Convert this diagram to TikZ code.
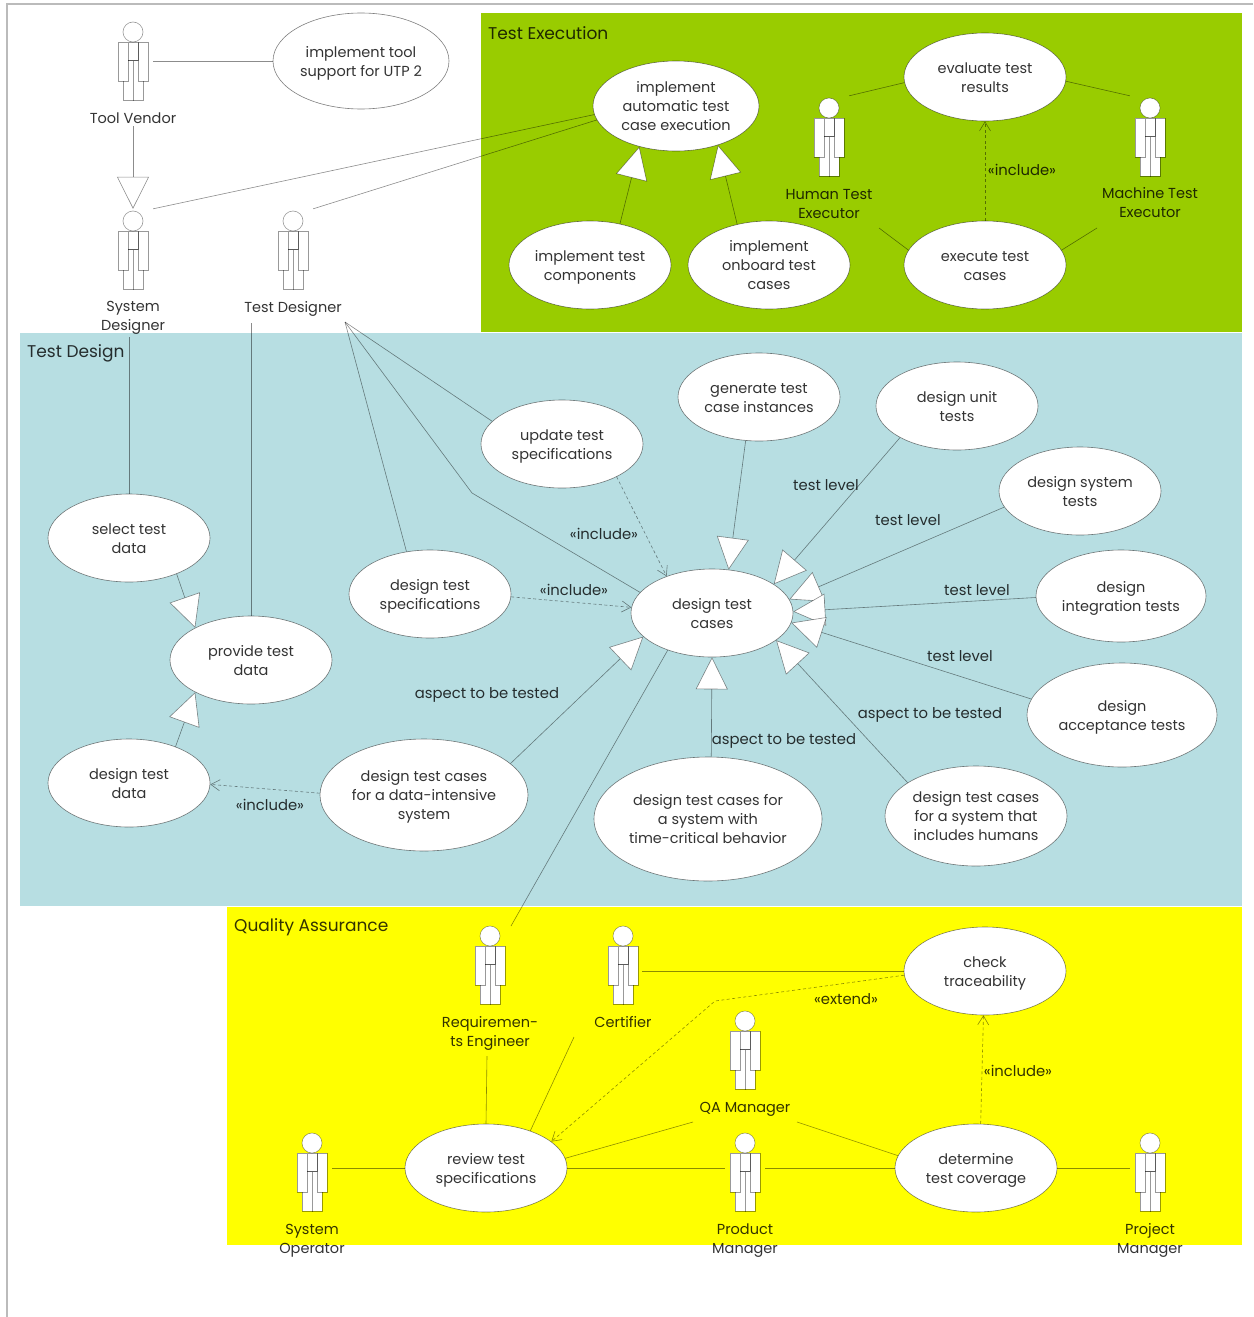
\documentclass[tikz,border=0pt]{standalone}
\usepackage{fontspec}
\setmainfont{Poppins}
\usetikzlibrary{arrows.meta,shapes.geometric}
\definecolor{greenzone}{HTML}{99CC00}
\definecolor{bluezone}{HTML}{B7DEE2}
\definecolor{yellowzone}{HTML}{FFFF00}
\definecolor{framegray}{HTML}{BBBBBB}
\tikzset{
  x=1pt,y=-1pt,
  usecase/.style={ellipse,draw=black,draw opacity=.5,fill=white,line width=.6pt,inner sep=0pt,align=center,text=black,text opacity=.8,font=\fontsize{14.5}{19}\selectfont},
  figurebox/.style={minimum width=40pt,minimum height=82pt,inner sep=0pt},
  actorlabel/.style={align=center,text=black,text opacity=.8,inner sep=2pt,font=\fontsize{14.5}{19}\selectfont},
  stereo/.style={text=black,text opacity=.8,inner sep=0pt,font=\fontsize{14.8}{19}\selectfont},
  zonelabel/.style={anchor=west,text=black,text opacity=.8,inner sep=0pt,font=\fontsize{17}{22}\selectfont},
  assoc/.style={draw=black,draw opacity=.45,line width=.6pt},
  generalize/.style={assoc,-{Triangle[length=32pt,width=32pt,fill=white]}},
  dep/.style={assoc,dash pattern=on 3pt off 2.5pt,-{Straight Barb[length=9pt,width=11pt]}},
  limb/.style={draw=black,draw opacity=.4,fill=white,line width=.6pt},
}
\newcommand{\ucase}[6]{\node[usecase,minimum width=#4pt,minimum height=#5pt] (#1) at (#2,#3) {\raisebox{-2pt}[\height][\depth]{\begin{tabular}{@{}c@{}}#6\end{tabular}}};}
\newcommand{\actorfig}[3]{%
  \node[figurebox] (#1) at (#2,#3+29) {};
  \begin{scope}[shift={(#2,#3)}]
    \draw[limb] (-10,28) rectangle (0,68);
    \draw[limb] (0,28) rectangle (10,68);
    \draw[limb] (-15,10) rectangle (-5,49);
    \draw[limb] (5,10) rectangle (15,49);
    \draw[limb] (-5,10) rectangle (5,28);
    \draw[limb] (0,0) circle[radius=10];
  \end{scope}}
\newcommand{\actorname}[4]{\node[actorlabel] (#1-l) at (#2,#3) {#4};}
\begin{document}
\begin{tikzpicture}
\useasboundingbox (0,0) rectangle (1253,1317);
\fill[white] (0,0) rectangle (1253,1317);
% page frame
\draw[framegray,line width=1.1pt] (7,1317) -- (7,4) -- (1253,4);
% zones
\fill[greenzone] (481,13) rectangle (1242,332);
\fill[bluezone] (20,333) rectangle (1242,906);
\fill[yellowzone] (227,907) rectangle (1242,1245);
\node[zonelabel] (zexec) at (488,33) {Test Execution};
\node[zonelabel] (zdesign) at (27,353) {Test Design};
\node[zonelabel] (zqa) at (234,927.5) {Quality Assurance};

% use cases
\ucase{tool}{361}{61}{176}{96}{implement tool\\support for UTP 2}
\ucase{auto}{676}{106}{166}{90}{implement\\automatic test\\case execution}
\ucase{eval}{985}{77}{162}{88}{evaluate test\\results}
\ucase{comp}{590}{265}{162}{88}{implement test\\components}
\ucase{onb}{769}{265}{162}{88}{implement\\onboard test\\cases}
\ucase{exec}{985}{265}{162}{88}{execute test\\cases}
\ucase{gen}{759}{397}{162}{88}{generate test\\case instances}
\ucase{unit}{957}{406}{162}{88}{design unit\\tests}
\ucase{upd}{562}{444}{162}{88}{update test\\specifications}
\ucase{sys}{1080}{491}{162}{88}{design system\\tests}
\ucase{sel}{129}{538}{162}{88}{select test\\data}
\ucase{spec}{430}{594}{162}{88}{design test\\specifications}
\ucase{cases}{712}{613}{162}{88}{design test\\cases}
\ucase{integ}{1121}{596}{170}{92}{design\\integration tests}
\ucase{prov}{251}{660}{162}{88}{provide test\\data}
\ucase{accept}{1122}{715}{190}{104}{design\\acceptance tests}
\ucase{tdata}{129}{783}{162}{88}{design test\\data}
\ucase{dint}{424}{795}{208}{112}{design test cases\\for a data-intensive\\system}
\ucase{time}{708}{819}{228}{124}{design test cases for\\a system with\\time-critical behavior}
\ucase{hum}{976}{816}{182}{100}{design test cases\\for a system that\\includes humans}
\ucase{check}{985}{971}{162}{88}{check\\traceability}
\ucase{rev}{486}{1168}{162}{88}{review test\\specifications}
\ucase{det}{976}{1168}{162}{88}{determine\\test coverage}

% actors
\actorfig{tv}{133}{32}
\actorfig{sd}{133}{221}
\actorfig{td}{293}{221}
\actorfig{hte}{829}{108}
\actorfig{mte}{1150}{108}
\actorfig{rq}{490}{936}
\actorfig{cf}{623}{936}
\actorfig{qa}{745}{1021}
\actorfig{so}{312}{1143}
\actorfig{pdm}{745}{1143}
\actorfig{pjm}{1150}{1143}
\actorname{tv}{133}{118.5}{Tool Vendor}
\actorname{sd}{133}{318}{System\\Designer}
\actorname{td}{293}{309}{Test Designer}
\actorname{hte}{829}{204}{Human Test\\Executor}
\actorname{mte}{1150}{203}{Machine Test\\Executor}
\actorname{rq}{490}{1033}{Requiremen-\\ts Engineer}
\actorname{cf}{623}{1022}{Certifier}
\actorname{qa}{745}{1109}{QA Manager}
\actorname{so}{312}{1241}{System\\Operator}
\actorname{pdm}{745}{1240.5}{Product\\Manager}
\actorname{pjm}{1150}{1240.5}{Project\\Manager}

% free ends and bends
\coordinate (tdl-a) at (251,323);
\coordinate (tdl-b) at (345,322);
\coordinate (sdl-a) at (129,337);
\coordinate (hte-a) at (879,228);
\coordinate (mte-a) at (1097,228);
\coordinate (rq-a) at (511,926);
\coordinate (rq-b) at (487,1056);
\coordinate (cf-a) at (574,1037);
\coordinate (cf-b) at (642,971);
\coordinate (qa-a) at (693,1122);
\coordinate (qa-b) at (797,1122);
\coordinate (so-b) at (332,1168);
\coordinate (pdm-w) at (725,1168);
\coordinate (pdm-e) at (765,1168);
\coordinate (pjm-w) at (1130,1168);
\coordinate (bend1) at (472,493);
\coordinate (bend2) at (715,1001);

% associations
\draw[assoc] (tv.east) -- (tool.west);
\draw[assoc] (sd.north east) -- (auto.186);
\draw[assoc] (td.north east) -- (auto.190);
\draw[assoc] (hte.north east) -- (eval.184);
\draw[assoc] (mte.north west) -- (eval.-3.5);
\draw[assoc] (hte-a) -- (exec.169);
\draw[assoc] (mte-a) -- (exec.11);
\draw[assoc] (sdl-a) -- (sel.north);
\draw[assoc] (tdl-a) -- (prov.north);
\draw[assoc] (tdl-b) -- (upd.162);
\draw[assoc] (tdl-b) -- (spec.119);
\draw[assoc] (tdl-b) -- (bend1) -- (cases.164);
\draw[assoc] (rq-a) -- (cases.220);
\draw[assoc] (cf-b) -- (check.west);
\draw[assoc] (rq-b) -- (rev.north);
\draw[assoc] (cf-a) -- (rev.40);
\draw[assoc] (qa-a) -- (rev.7);
\draw[assoc] (qa-b) -- (det.171);
\draw[assoc] (so-b) -- (rev.west);
\draw[assoc] (rev.east) -- (pdm-w);
\draw[assoc] (pdm-e) -- (det.west);
\draw[assoc] (det.east) -- (pjm-w);

% generalizations
\draw[generalize] (tv-l.south) -- (sd.north);
\draw[generalize] (comp.54.5) -- (auto.228);
\draw[generalize] (onb.128) -- (auto.317);
\draw[generalize] (gen.253.5) -- (cases.69);
\draw[generalize] (unit.209) -- (cases.25.5);
\draw[generalize] (sys.192) -- (cases.10.7);
\draw[generalize] (integ.181) -- (cases.1);
\draw[generalize] (accept.170.7) -- (cases.-7.7);
\draw[generalize] (hum.154) -- (cases.-23.3);
\draw[generalize] (time.87) -- (cases.south);
\draw[generalize] (dint.20.6) -- (cases.199);
\draw[generalize] (sel.-37.5) -- (prov.150);
\draw[generalize] (tdata.38.4) -- (prov.210);

% dependencies
\draw[dep] (exec.north) -- (eval.south);
\draw[dep] (upd.-31.7) -- (cases.141.8);
\draw[dep] (spec.-2) -- (cases.176.4);
\draw[dep] (dint.179) -- (tdata.-1);
\draw[dep] (check.183) -- (bend2) -- (rev.22.7);
\draw[dep] (det.84) -- (check.-92.5);

% connector labels
\node[stereo] (l1) at (1022,170) {«include»};
\node[stereo] (l2) at (604,534) {«include»};
\node[stereo] (l3) at (574,590) {«include»};
\node[stereo] (l4) at (270,805) {«include»};
\node[stereo] (l5) at (846,999) {«extend»};
\node[stereo] (l6) at (1018,1071) {«include»};
\node[stereo] (l7) at (826,485) {test level};
\node[stereo] (l8) at (908,520) {test level};
\node[stereo] (l9) at (977,590) {test level};
\node[stereo] (l10) at (960,656) {test level};
\node[stereo] (l11) at (930,715) {aspect to be tested};
\node[stereo] (l12) at (784,741) {aspect to be tested};
\node[stereo] (l13) at (487,695) {aspect to be tested};
\end{tikzpicture}
\end{document}
